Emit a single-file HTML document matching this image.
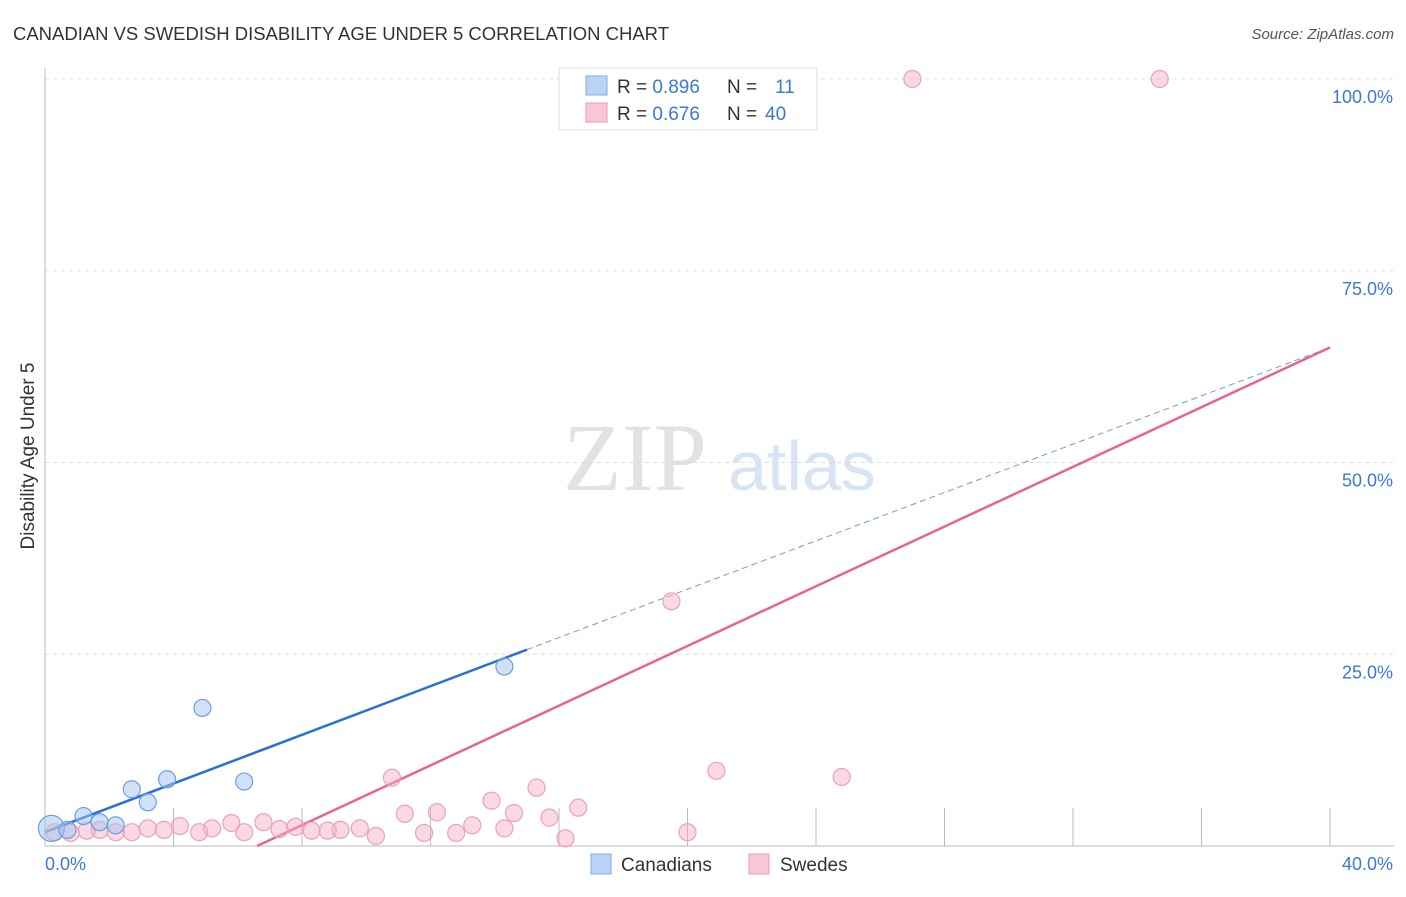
<!DOCTYPE html>
<html><head><meta charset="utf-8"><style>
body{margin:0;background:#fff;font-family:"Liberation Sans",sans-serif}
svg text{font-family:"Liberation Sans",sans-serif}
svg text.serif{font-family:"Liberation Serif",serif}
</style></head><body>
<svg id="chart" width="1406" height="892" viewBox="0 0 1406 892" xmlns="http://www.w3.org/2000/svg">
<text x="13" y="40" font-size="18.5" fill="#333" textLength="656">CANADIAN VS SWEDISH DISABILITY AGE UNDER 5 CORRELATION CHART</text>
<text x="1394" y="39" font-size="15" fill="#555" font-style="italic" text-anchor="end">Source: ZipAtlas.com</text>
<g>
<text class="serif" x="635" y="490" font-size="96" fill="#e2e2e2" text-anchor="middle">ZIP</text>
<text x="802" y="490" font-size="70" fill="#d6e4f5" text-anchor="middle">atlas</text>
</g>
<g id="grid"></g>
<g id="axes"></g>
<text transform="translate(34,456) rotate(-90)" font-size="19" fill="#333" text-anchor="middle">Disability Age Under 5</text>
<g id="lines"></g>
<g id="points"></g>
<g>
<rect x="559" y="68" width="258" height="62" fill="#fff" stroke="#ddd"/>
<rect x="586" y="76" width="21" height="19" fill="#b8d3f5" stroke="#7eaee8"/>
<rect x="586" y="103" width="21" height="19" fill="#f9c6d4" stroke="#ee9ab3"/>
<text x="617" y="93" font-size="19" fill="#333">R = <tspan fill="#3b78d8">0.896</tspan><tspan x="727">N = </tspan><tspan x="775" fill="#3b78d8">11</tspan></text>
<text x="617" y="120" font-size="19" fill="#333">R = <tspan fill="#3b78d8">0.676</tspan><tspan x="727">N = </tspan><tspan x="765" fill="#3b78d8">40</tspan></text>
</g>
<g>
<rect x="591" y="854" width="20" height="20" fill="#b8d3f5" stroke="#7eaee8"/>
<text x="621" y="871" font-size="19" fill="#333">Canadians</text>
<rect x="749" y="854" width="20" height="20" fill="#f9c6d4" stroke="#ee9ab3"/>
<text x="780" y="871" font-size="19" fill="#333">Swedes</text>
</g>
</svg>
<script>
const xTicks=[0,4,8,12,16,20,24,28,32,36,40];
const yTicks=[25,50,75,100];
const yTickLabels=["25.0%","50.0%","75.0%","100.0%"];
const canX=[0.2,0.7,1.2,1.7,2.2,2.7,3.2,3.8,4.9,6.2,14.3];
const canY=[2.3,2.1,3.9,3.1,2.7,7.4,5.7,8.7,18.0,8.4,23.4];
const sweX=[27.0,34.7,19.5,20.9,24.8,10.8,15.3,13.9,16.6,11.2,12.2,14.6,15.7,13.3,14.3,11.8,12.8,16.2,20.0,10.3,9.8,9.2,8.8,8.3,7.8,7.3,6.8,6.2,5.8,5.2,4.8,4.2,3.7,3.2,2.7,2.2,1.7,1.3,0.8,0.3];
const sweY=[100,100,31.9,9.8,9.0,8.9,7.6,5.9,5.0,4.2,4.4,4.3,3.7,2.7,2.3,1.7,1.7,1.0,1.8,1.3,2.3,2.1,2.0,2.0,2.5,2.2,3.1,1.8,3.0,2.3,1.8,2.6,2.1,2.3,1.8,1.8,2.1,2.0,1.7,1.8];
const canLine=[[0,1.8],[15.0,25.6]];
const canDash=[[15.0,25.6],[40,65]];
const sweLine=[[6.6,0],[40,65]];
const X=v=>45+v*32.125, Y=v=>846-v*7.67;
const NS="http://www.w3.org/2000/svg";
function mk(t,a,p){const e=document.createElementNS(NS,t);for(const k in a)e.setAttribute(k,a[k]);p.appendChild(e);return e;}
const grid=document.getElementById('grid'),axes=document.getElementById('axes');
yTicks.forEach((v,i)=>{
 mk('line',{x1:45,x2:1394,y1:Y(v),y2:Y(v),stroke:'#ddd','stroke-dasharray':'4,4'},grid);
 const t=mk('text',{x:1393,y:Y(v)+24,'font-size':18,fill:'#3b78d8','text-anchor':'end'},axes);
 
 
 t.textContent=yTickLabels[i];
});
mk('line',{x1:45,x2:1394,y1:79,y2:79,stroke:'#ddd','stroke-dasharray':'4,4'},grid);
mk('line',{x1:45,x2:45,y1:68,y2:846,stroke:'#bbb'},axes);
mk('line',{x1:45,x2:1394,y1:846,y2:846,stroke:'#bbb'},axes);
xTicks.slice(1).forEach(v=>{mk('line',{x1:X(v),x2:X(v),y1:808,y2:846,stroke:'#bbb'},axes);});
let t=mk('text',{x:45,y:870,'font-size':18,fill:'#3b78d8'},axes);


t.textContent='0.0%';
t=mk('text',{x:1393,y:870,'font-size':18,fill:'#3b78d8','text-anchor':'end'},axes);


t.textContent='40.0%';
const lines=document.getElementById('lines'),pts=document.getElementById('points');
let l=mk('line',{x1:X(canDash[0][0]),y1:Y(canDash[0][1]),x2:X(canDash[1][0]),y2:Y(canDash[1][1]),stroke:'#6a9ee0','stroke-width':1,'stroke-dasharray':'6,4'},lines);


l=mk('line',{x1:X(sweLine[0][0]),y1:Y(sweLine[0][1]),x2:X(sweLine[1][0]),y2:Y(sweLine[1][1]),stroke:'#e8648e','stroke-width':2.5},lines);


sweX.forEach((v,i)=>{const c=mk('circle',{cx:X(v),cy:Y(sweY[i]),r:8.5,fill:'rgba(246,170,195,0.45)',stroke:'#eea0b8','stroke-width':1.2},pts);
 
 });
canX.forEach((v,i)=>{const c=mk('circle',{cx:X(v),cy:Y(canY[i]),r:i==0?13:8.5,fill:'rgba(160,195,240,0.5)',stroke:'#6d9fe0','stroke-width':1.2},pts);
 
 });
l=mk('line',{x1:X(canLine[0][0]),y1:Y(canLine[0][1]),x2:X(canLine[1][0]),y2:Y(canLine[1][1]),stroke:'#2a6fd6','stroke-width':2.5},lines);


</script>
</body></html>
